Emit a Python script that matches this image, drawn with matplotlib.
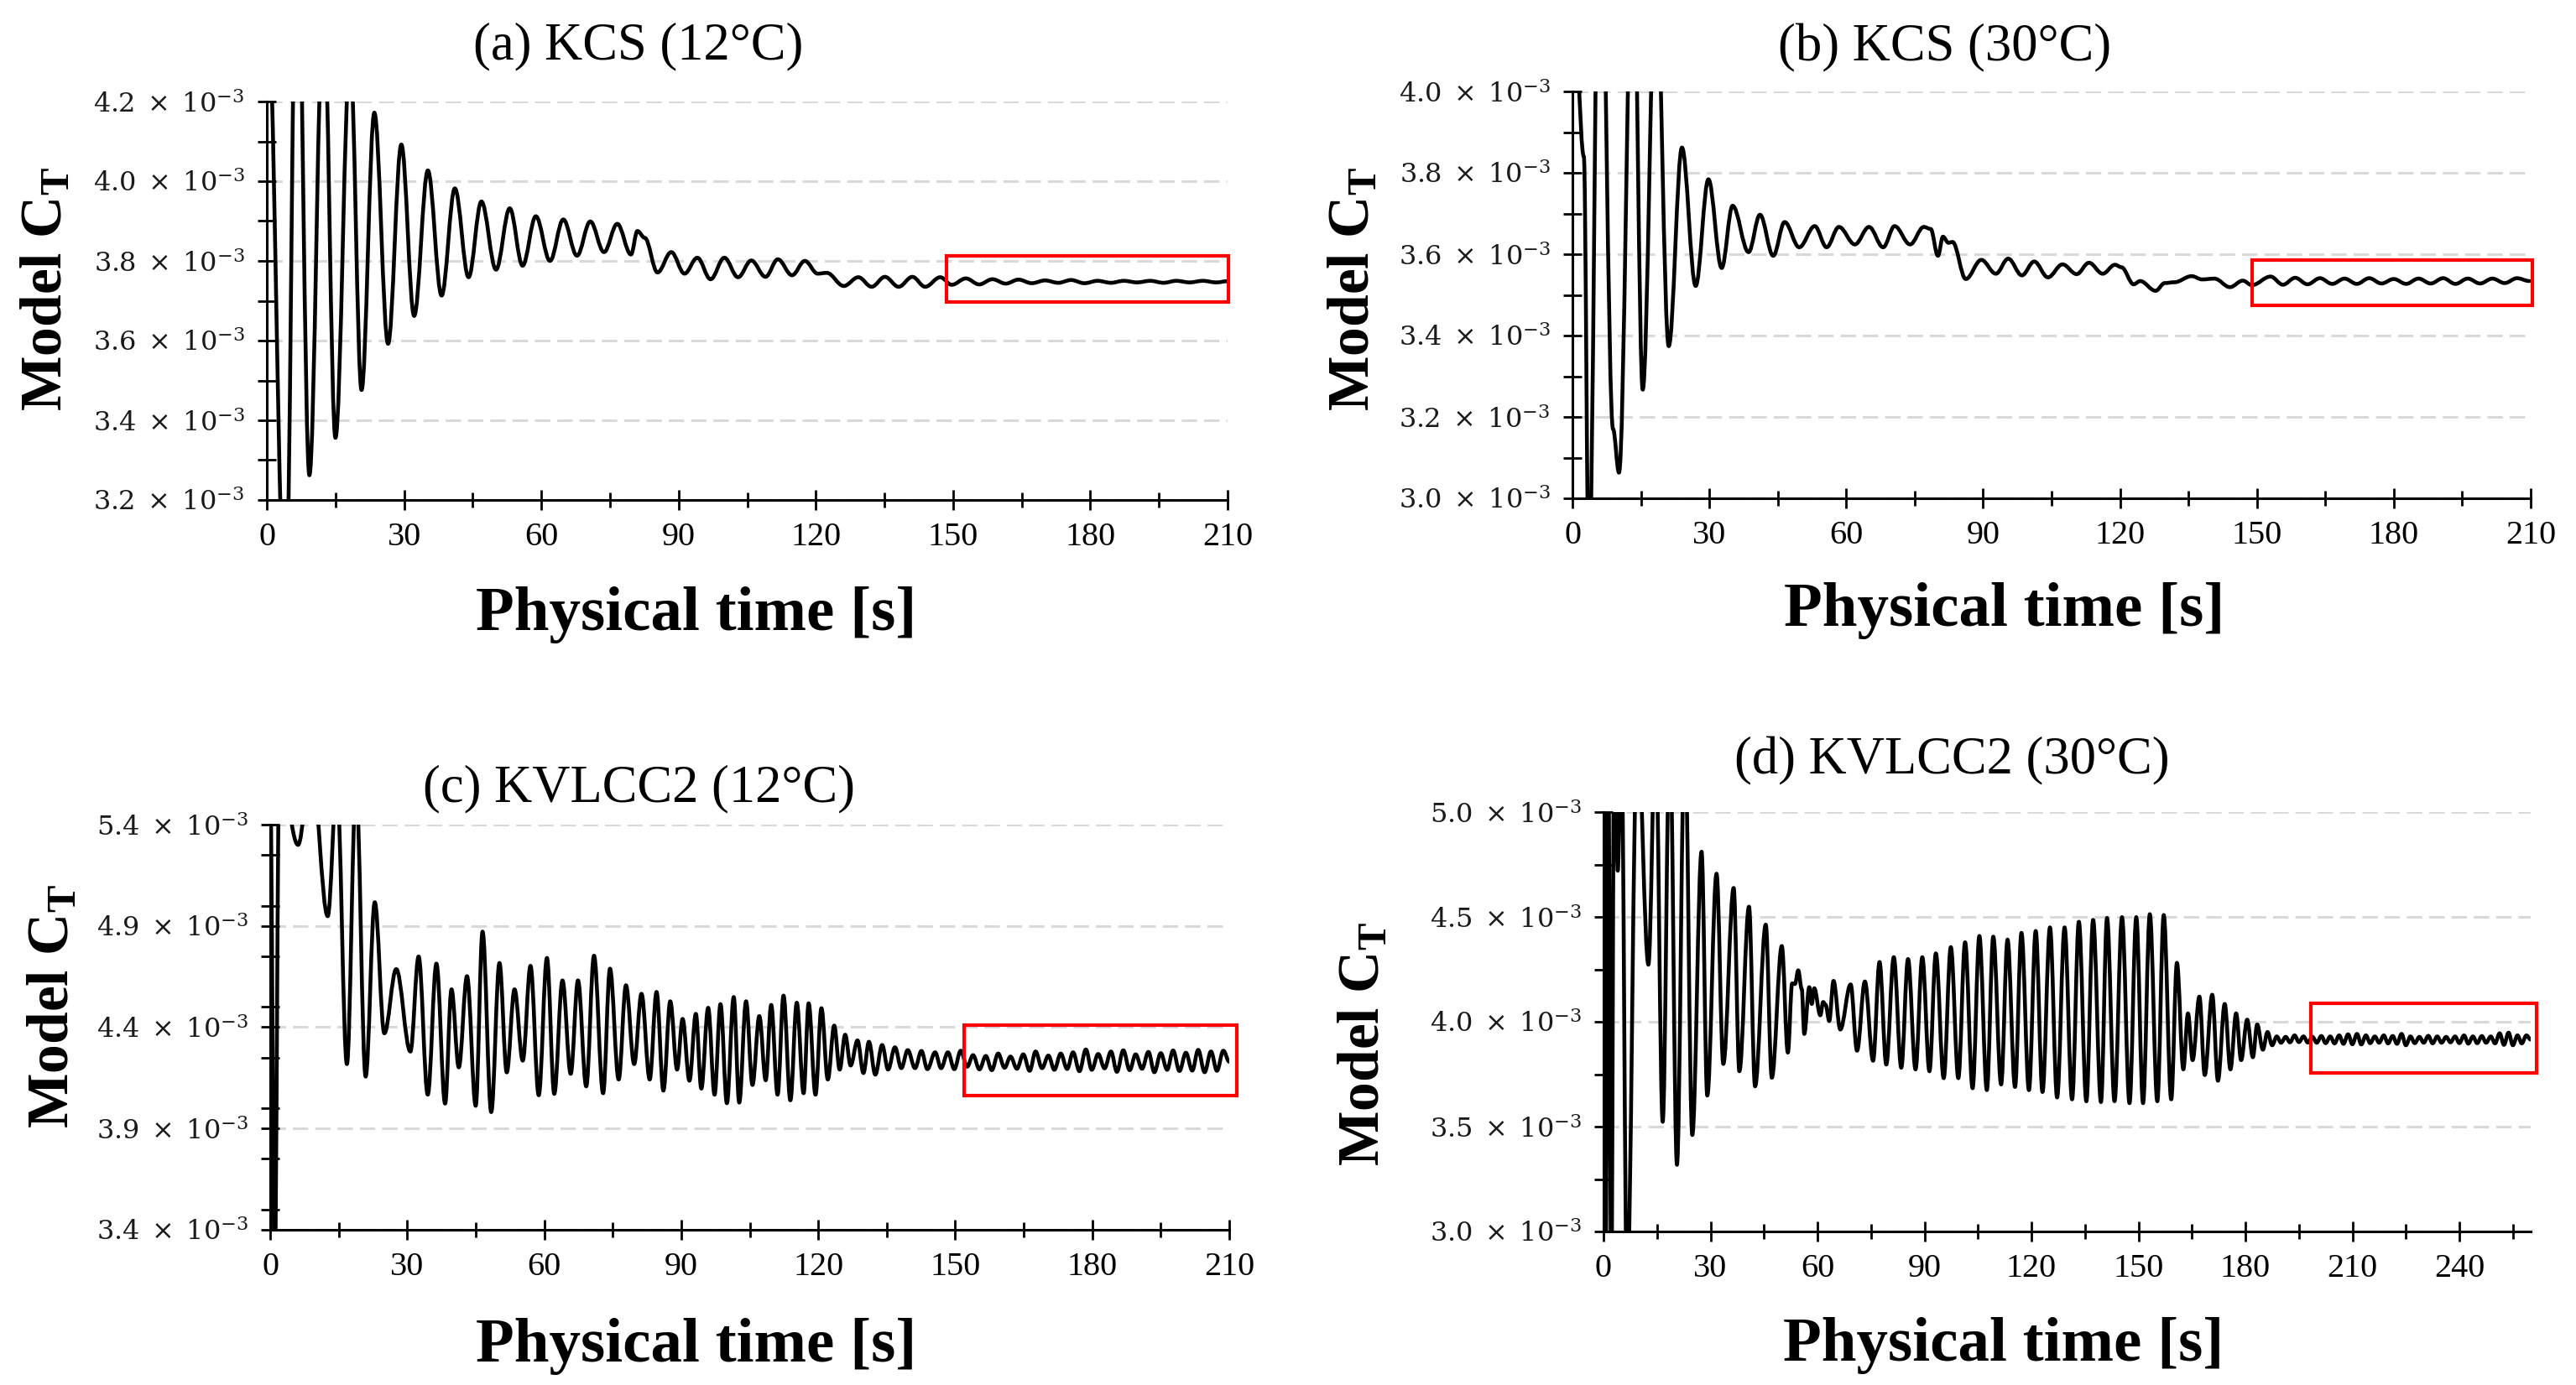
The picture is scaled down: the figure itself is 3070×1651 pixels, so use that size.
import matplotlib
matplotlib.use("Agg")
import matplotlib.pyplot as plt
from matplotlib.path import Path
from matplotlib.patches import PathPatch, Rectangle
from matplotlib.ticker import FixedLocator, MultipleLocator

plt.rcParams['font.family'] = ['Liberation Serif', 'DejaVu Serif']
plt.rcParams['mathtext.fontset'] = 'custom'
plt.rcParams['mathtext.rm'] = 'Liberation Serif'
plt.rcParams['mathtext.it'] = 'Liberation Serif:italic'
plt.rcParams['mathtext.bf'] = 'Liberation Serif:bold'

# ---------------- data (C_T x 10^3, extrema) ----------------
titles = ["(a) KCS (12°C)", "(b) KCS (30°C)", "(c) KVLCC2 (12°C)", "(d) KVLCC2 (30°C)"]

t_a = [0.0, 4.1, 6.6, 9.3, 12.4, 15.0, 18.2, 20.7, 23.5, 26.5, 29.4, 32.2, 35.2, 38.2, 41.1, 44.1,
       46.9, 50.1, 53.1, 55.9, 58.8, 61.9, 64.8, 67.8, 70.7, 73.7, 76.6, 79.6, 81.0, 82.6, 85.4,
       88.4, 91.3, 94.1, 97.0, 100.0, 103.0, 105.9, 109.0, 111.7, 114.8, 117.6, 120.4, 122.4,
       126.1, 129.3, 132.2, 135.1, 138.1, 141.1, 143.9, 147.2, 149.7,
       152.8, 155.7, 158.6, 161.5, 164.3, 167.2, 170.1, 173.0, 175.8, 178.7, 181.6, 184.5,
       187.3, 190.2, 193.1, 196.0, 198.8, 201.7, 204.6, 207.5, 210.0]
v_a = [4.50, 2.90, 4.70, 3.262, 4.45, 3.356, 4.32, 3.476, 4.172, 3.592, 4.092, 3.662, 4.027, 3.713,
       3.982, 3.759, 3.949, 3.778, 3.932, 3.788, 3.912, 3.800, 3.904, 3.813, 3.899, 3.822, 3.893,
       3.816, 3.875, 3.858, 3.771, 3.822, 3.768, 3.808, 3.754, 3.808, 3.759, 3.801, 3.760, 3.804,
       3.764, 3.800, 3.768, 3.770, 3.737, 3.759, 3.735, 3.760, 3.735, 3.760, 3.735, 3.759, 3.740,
       3.756, 3.741, 3.754, 3.743, 3.753, 3.744, 3.751, 3.745, 3.752, 3.744, 3.750, 3.745,
       3.750, 3.746, 3.750, 3.745, 3.750, 3.746, 3.750, 3.746, 3.749]

t_b = [0.0, 2.5, 3.6, 6.0, 8.9, 10.2, 13.3, 15.4, 18.3, 21.1, 24.0, 27.0, 29.8, 32.7, 35.1, 38.6,
       41.1, 44.0, 46.5, 49.7, 53.1, 55.7, 58.4, 61.9, 65.0, 68.1, 70.6, 74.0, 77.0, 78.5, 80.1,
       81.2, 82.4, 83.3, 86.2, 89.6, 92.8, 95.5, 98.5, 101.2, 104.2, 107.4, 110.5, 113.2, 116.2,
       118.9, 120.3, 123.0, 124.4, 127.8, 129.8, 131.9, 135.7, 138.0, 140.7, 144.1, 146.9, 148.9,
       153.0, 155.7, 158.4, 161.1, 163.8, 166.5, 169.2, 171.9, 174.6, 177.3, 180.0, 182.7, 185.4,
       188.1, 190.8, 193.5, 196.2, 198.9, 201.6, 204.3, 207.0, 209.7]
v_b = [4.30, 3.84, 2.80, 4.60, 3.17, 3.063, 4.40, 3.267, 4.30, 3.374, 3.862, 3.522, 3.784, 3.566,
       3.719, 3.605, 3.697, 3.596, 3.679, 3.617, 3.669, 3.617, 3.667, 3.624, 3.667, 3.617, 3.669,
       3.624, 3.667, 3.662, 3.596, 3.643, 3.628, 3.630, 3.539, 3.586, 3.552, 3.589, 3.548, 3.582,
       3.543, 3.575, 3.551, 3.579, 3.552, 3.574, 3.568, 3.526, 3.534, 3.510, 3.529, 3.531, 3.546,
       3.538, 3.540, 3.519, 3.535, 3.524,
       3.545, 3.525, 3.542, 3.526, 3.541, 3.527, 3.540, 3.527, 3.541, 3.528, 3.539, 3.527, 3.540,
       3.528, 3.541, 3.527, 3.540, 3.528, 3.540, 3.529, 3.541, 3.534]

t_c = [0.0, 1.0, 2.0, 6.1, 9.0, 12.6, 14.6, 16.8, 18.8, 20.9, 22.9, 25.0, 27.6, 30.7, 32.5, 34.5,
       36.4, 38.3, 39.7, 41.3, 43.1, 45.0, 46.5, 48.4, 50.2, 51.8, 53.5, 55.3, 57.0, 58.8, 60.6,
       62.2, 64.0, 65.8, 67.4, 69.2, 70.9, 72.9, 74.4, 76.3, 77.9, 79.7, 81.3, 83.1, 84.6, 86.1,
       87.6, 89.1, 90.3, 91.8, 93.2, 94.4, 95.9, 97.3, 98.6, 100.0, 101.5, 102.7, 104.2, 105.6,
       107.1, 108.5, 109.7, 111.1, 112.4, 113.9, 115.3, 116.8, 117.9, 119.4, 120.7, 122.1, 123.5,
       124.7, 125.9, 127.1, 128.6, 129.9, 131.1, 132.5, 134.0, 135.3, 136.8, 138.2, 139.6, 141.2,
       142.6, 143.9, 145.6, 146.9, 148.4, 149.8, 151.2,
       152.6, 153.9, 155.3, 156.7, 158.0, 159.4, 160.8, 162.1, 163.5, 164.9, 166.3, 167.6, 169.0,
       170.4, 171.7, 173.1, 174.5, 175.8, 177.2, 178.6, 179.9, 181.3, 182.7, 184.1, 185.4, 186.8,
       188.2, 189.5, 190.9, 192.3, 193.6, 195.0, 196.4, 197.7, 199.1, 200.5, 201.9, 203.2, 204.6,
       206.0, 207.3, 208.7, 210.0]
v_c = [5.60, 3.20, 5.70, 5.30, 5.70, 4.948, 5.60, 4.218, 5.60, 4.156, 5.017, 4.370, 4.687, 4.280,
       4.749, 4.067, 4.714, 4.023, 4.587, 4.202, 4.652, 4.012, 4.872, 3.981, 4.717, 4.177, 4.587,
       4.235, 4.703, 4.064, 4.742, 4.071, 4.631, 4.170, 4.631, 4.108, 4.753, 4.074, 4.689, 4.142,
       4.607, 4.218, 4.565, 4.142, 4.574, 4.087, 4.528, 4.191, 4.441, 4.136, 4.466, 4.097, 4.496,
       4.067, 4.514, 4.025, 4.549, 4.028, 4.528, 4.115, 4.455, 4.138, 4.510, 4.067, 4.556, 4.039,
       4.521, 4.074, 4.518, 4.067, 4.494, 4.142, 4.408, 4.191, 4.363, 4.211, 4.335, 4.174, 4.328,
       4.166, 4.312, 4.191, 4.301, 4.198, 4.287, 4.198, 4.283, 4.193, 4.276, 4.198, 4.276, 4.193,
       4.284,
       4.205, 4.262, 4.192, 4.258, 4.188, 4.270, 4.200, 4.255, 4.195, 4.266, 4.185, 4.280, 4.198,
       4.260, 4.190, 4.270, 4.194, 4.276, 4.183, 4.290, 4.190, 4.268, 4.197, 4.280, 4.180, 4.286,
       4.188, 4.266, 4.195, 4.278, 4.178, 4.272, 4.190, 4.285, 4.184, 4.274, 4.186, 4.288, 4.178,
       4.280, 4.185, 4.284, 4.230]

t_d = [0.0, 0.6, 1.3, 2.2, 3.0, 4.0, 5.0, 6.6, 9.5, 12.6, 14.6, 16.6, 18.6, 20.6, 22.8, 24.9,
       27.5, 29.1, 31.7, 33.6, 36.5, 38.1, 40.8, 42.5, 45.5, 47.2, 50.0, 51.7, 52.9, 53.7, 54.6,
       55.6, 56.3, 57.7, 58.4, 59.1, 60.8, 61.6, 62.3, 63.3, 64.5, 66.4, 69.3, 71.1, 73.3, 75.6,
       77.4, 79.3, 81.4, 83.5, 85.4, 87.5, 89.4, 91.4, 93.2, 95.4, 97.4, 99.5, 101.4, 103.5, 105.4,
       107.5, 109.3, 111.5, 113.3, 115.4, 117.2, 119.3, 121.2, 123.1, 125.2, 127.2, 129.3, 131.4,
       133.3, 135.4, 137.3, 139.5, 141.2, 143.3, 145.4, 147.5, 149.4, 151.3, 153.2, 155.3, 157.1,
       159.2, 160.8, 162.6, 163.9, 165.2, 167.1, 168.6, 170.7, 172.3, 174.2, 175.8, 177.4, 178.8,
       180.5, 182.1, 183.3, 184.9, 186.2, 187.5,
       188.8, 190.0, 191.3, 192.5, 193.8, 195.0, 196.3, 197.5, 198.8, 200.0, 201.3, 202.5, 203.8,
       205.0, 206.3, 207.5, 208.8, 210.0, 211.3, 212.5, 213.8, 215.0, 216.3, 217.5, 218.8, 220.0,
       221.3, 222.5, 223.8, 225.0, 226.3, 227.5, 228.8, 230.0, 231.3, 232.5, 233.8, 235.0, 236.3,
       237.5, 238.8, 240.0, 241.3, 242.5, 243.8, 245.0, 246.3, 247.5, 248.8, 250.0, 251.3, 252.5,
       253.8, 255.0, 256.3, 257.5, 258.8, 260.0]
v_d = [5.40, 2.70, 5.40, 2.70, 5.40, 4.72, 5.40, 2.70, 5.40, 4.272, 5.40, 3.523, 5.40, 3.318,
       5.40, 3.460, 4.811, 3.648, 4.706, 3.799, 4.638, 3.764, 4.549, 3.692, 4.463, 3.733, 4.361,
       3.853, 4.183, 4.180, 4.245, 4.156, 3.942, 4.165, 4.085, 4.160, 4.031, 4.094, 4.080, 4.004,
       4.195, 3.963, 4.178, 3.862, 4.192, 3.814, 4.285, 3.796, 4.308, 3.781, 4.299, 3.773, 4.308,
       3.764, 4.326, 3.731, 4.356, 3.731, 4.379, 3.683, 4.409, 3.674, 4.406, 3.701, 4.392, 3.689,
       4.424, 3.674, 4.433, 3.665, 4.450, 3.639, 4.450, 3.630, 4.477, 3.621, 4.486, 3.617, 4.495,
       3.621, 4.499, 3.612, 4.499, 3.612, 4.513, 3.621, 4.509, 3.630, 4.281, 3.773, 4.040, 3.817,
       4.120, 3.746, 4.129, 3.719, 4.085, 3.773, 4.040, 3.817, 4.010, 3.831, 3.987, 3.867, 3.951,
       3.888,
       3.930, 3.900, 3.928, 3.902, 3.935, 3.903, 3.930, 3.901, 3.928, 3.900, 3.932, 3.898, 3.930,
       3.897, 3.935, 3.895, 3.940, 3.893, 3.942, 3.892, 3.935, 3.898, 3.930, 3.900, 3.935, 3.897,
       3.932, 3.895, 3.942, 3.888, 3.930, 3.898, 3.928, 3.900, 3.933, 3.897, 3.930, 3.900, 3.928,
       3.902, 3.930, 3.898, 3.935, 3.896, 3.930, 3.898, 3.932, 3.900, 3.930, 3.897, 3.945, 3.890,
       3.948, 3.888, 3.935, 3.897, 3.935, 3.915]

# red boxes: (t0, v0, t1, v1)
box_a = (148.6, 3.697, 210.1, 3.812)
box_b = (149.0, 3.474, 210.3, 3.585)
box_c = (152.0, 4.062, 211.6, 4.412)
box_d = (198.3, 3.755, 261.6, 4.088)

ylim_a, ylim_b, ylim_c, ylim_d = (3.2, 4.2), (3.0, 4.0), (3.4, 5.4), (3.0, 5.0)
yt_a = [3.2, 3.4, 3.6, 3.8, 4.0, 4.2]
yt_b = [3.0, 3.2, 3.4, 3.6, 3.8, 4.0]
yt_c = [3.4, 3.9, 4.4, 4.9, 5.4]
yt_d = [3.0, 3.5, 4.0, 4.5, 5.0]
xt_abc = [0, 30, 60, 90, 120, 150, 180, 210]
xt_d = [0, 30, 60, 90, 120, 150, 180, 210, 240]
xlim_abc, xlim_d = (0, 210), (0, 260)

xlabel = "Physical time [s]"
ylabel = r"Model $\mathbf{C}_\mathbf{T}$"

# ---------------- figure ----------------
W, H = 3070, 1651
fig = plt.figure(figsize=(W / 100, H / 100), dpi=100)


def px(x, y):
    return x / W, 1 - y / H


def rect(l, t, r, b):
    x0, y1 = px(l, t)
    x1, y0 = px(r, b)
    return [x0, y0, x1 - x0, y1 - y0]


def smooth(t, v, k=0.363):
    verts = [(t[0], v[0])]
    codes = [Path.MOVETO]
    for i in range(len(t) - 1):
        dt = t[i + 1] - t[i]
        verts += [(t[i] + k * dt, v[i]), (t[i + 1] - k * dt, v[i + 1]), (t[i + 1], v[i + 1])]
        codes += [Path.CURVE4] * 3
    return Path(verts, codes)


panels = [
    dict(r=(318, 121, 1463, 596), t=t_a, v=v_a, box=box_a, ylim=ylim_a, yt=yt_a, ym=0.1,
         xt=xt_abc, xlim=xlim_abc, title=titles[0], tpos=(761, 70), xpos=(830, 751), ypos=(56, 345)),
    dict(r=(1874, 109, 3016, 594), t=t_b, v=v_b, box=box_b, ylim=ylim_b, yt=yt_b, ym=0.1,
         xt=xt_abc, xlim=xlim_abc, title=titles[1], tpos=(2318, 72), xpos=(2389, 746), ypos=(1614, 345)),
    dict(r=(322, 983, 1465, 1466), t=t_c, v=v_c, box=box_c, ylim=ylim_c, yt=yt_c, ym=0.25,
         xt=xt_abc, xlim=xlim_abc, title=titles[2], tpos=(762, 955), xpos=(830, 1623), ypos=(64, 1200)),
    dict(r=(1911, 968, 3016, 1468), t=t_d, v=v_d, box=box_d, ylim=ylim_d, yt=yt_d, ym=0.25,
         xt=xt_d, xlim=xlim_d, title=titles[3], tpos=(2326, 922), xpos=(2388, 1622), ypos=(1626, 1245)),
]

for p in panels:
    ax = fig.add_axes(rect(*p['r']))
    ax.set_xlim(*p['xlim'])
    ax.set_ylim(*p['ylim'])
    for s in ('top', 'right'):
        ax.spines[s].set_visible(False)
    for s in ('left', 'bottom'):
        ax.spines[s].set_linewidth(2.2)
    ax.xaxis.set_major_locator(FixedLocator(p['xt']))
    ax.xaxis.set_minor_locator(MultipleLocator(15))
    ax.yaxis.set_major_locator(FixedLocator(p['yt']))
    ax.yaxis.set_minor_locator(MultipleLocator(p['ym']))
    ax.set_xticklabels([str(x) for x in p['xt']])
    ax.set_yticklabels([r"$%.1f\;\times\;10^{-3}$" % y for y in p['yt']],
                       math_fontfamily='dejavuserif')
    ax.tick_params(axis='x', which='major', direction='inout', length=17, width=2.0,
                   labelsize=29, pad=10, colors='black')
    ax.tick_params(axis='x', which='minor', direction='inout', length=13, width=2.0)
    ax.tick_params(axis='y', which='both', direction='inout', length=16, width=2.0,
                   labelsize=23, pad=11, labelcolor='#1a1a1a')
    ax.set_axisbelow(True)
    ax.yaxis.grid(True, which='major', color='#d9d9d9', lw=2.2, ls=(0, (6, 2.7)))
    ax.add_patch(PathPatch(smooth(p['t'], p['v']), fill=False, ec='black', lw=3.3,
                           joinstyle='round', capstyle='round'))
    t0, v0, t1, v1 = p['box']
    ax.add_patch(Rectangle((t0, v0), t1 - t0, v1 - v0, fill=False, ec='#ff0000', lw=3.0,
                           clip_on=False, zorder=5))
    fig.text(*px(*p['tpos']), p['title'], ha='center', va='baseline', fontsize=45)
    fig.text(*px(*p['xpos']), xlabel, ha='center', va='baseline', fontsize=54, fontweight='bold')
    fig.text(*px(*p['ypos']), ylabel, ha='center', va='center', rotation=90, fontsize=50,
             fontweight='bold')

fig.savefig('out.png', dpi=100)
